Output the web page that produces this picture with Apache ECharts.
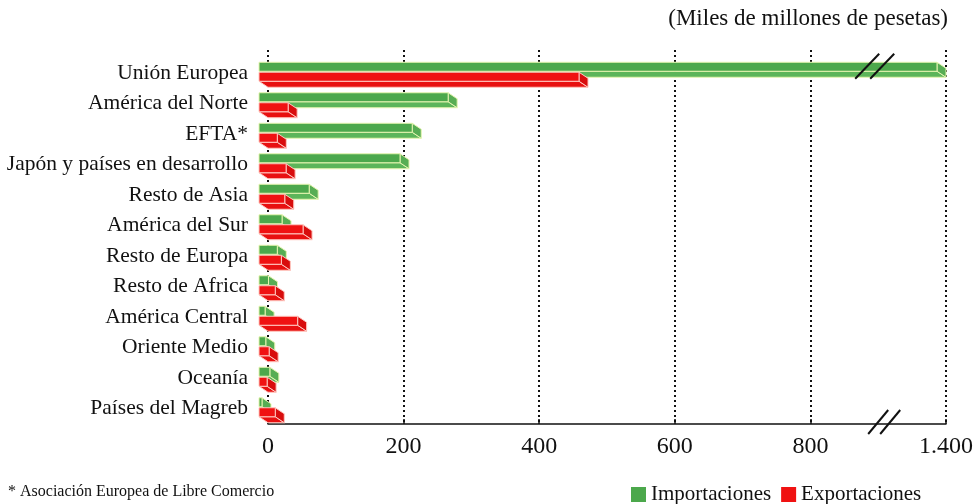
<!DOCTYPE html>
<html><head><meta charset="utf-8">
<script src="https://cdn.jsdelivr.net/npm/echarts@6/dist/echarts.min.js"></script>
<style>html,body{margin:0;background:#fff}#c{width:977px;height:504px}</style>
</head><body><div id="c"></div>
<script>
const categories = ['Unión Europea','América del Norte','EFTA*','Japón y países en desarrollo','Resto de Asia','América del Sur','Resto de Europa','Resto de Africa','América Central','Oriente Medio','Oceanía','Países del Magreb'];
const importaciones = [1400,279,226,208,74,34,27,14,9,10,16,4];
const exportaciones = [472,43,27,40,38,65,33,24,57,15,12,24];
const xTicks = [0,200,400,600,800,1400];
const axisBreak = {start: 900, end: 1300};

const FONT = '"Liberation Serif","DejaVu Serif",serif';
const GREEN = {front:'#4ca84c', bottom:'#5cb55a', side:'#57ad54', edge:'#e6f5b0'};
const RED = {front:'#f01212', bottom:'#e81010', side:'#d80d0d', edge:'#ffc8c0'};

const cut = axisBreak.end - axisBreak.start;
const toAxis = (v)=> v <= axisBreak.start ? v : v - cut;
const fromAxis = (a)=> a <= axisBreak.start ? a : a + cut;
function fmt(v){ return String(v).replace(/\B(?=(\d{3})+(?!\d))/g,'.'); }

function makeRender(col, off){
  return function(params, api){
    const v = api.value(0), idx = api.value(1);
    const p0 = api.coord([0, idx]);
    const p1 = api.coord([v, idx]);
    const DX = 9, DY = 6, H = 9;
    const yT = p0[1] + off, yB = yT + H;
    const x0 = p0[0] - DX;
    let x1 = p1[0] - DX;
    if (x1 < x0 + 3) x1 = x0 + 3;
    const st = (f)=>({fill:f, stroke:col.edge, lineWidth:1});
    return {type:'group', children:[
      {type:'polygon', shape:{points:[[x0,yB],[x1,yB],[x1+DX,yB+DY],[x0+DX,yB+DY]]}, style:st(col.bottom)},
      {type:'polygon', shape:{points:[[x1,yT],[x1+DX,yT+DY],[x1+DX,yB+DY],[x1,yB]]}, style:st(col.side)},
      {type:'rect', shape:{x:x0,y:yT,width:x1-x0,height:H}, style:st(col.front)}
    ]};
  };
}

const axisMax = toAxis(xTicks[xTicks.length-1]);
const xBase = {type:'value', min:0, max:axisMax, interval:200};

const chart = echarts.init(document.getElementById('c'), null, {renderer:'canvas'});
chart.setOption({
  backgroundColor:'#fff',
  animation:false,
  title:{text:'(Miles de millones de pesetas)', right:24, top:2,
    textStyle:{fontFamily:FONT, fontSize:23, fontWeight:'normal', color:'#111'}},
  legend:{left:626, top:479, itemWidth:15, itemHeight:15, itemGap:10,
    textStyle:{fontFamily:FONT, fontSize:21, color:'#111'},
    data:[{name:'Importaciones', icon:'rect'},{name:'Exportaciones', icon:'rect'}]},
  grid:[
    {left:268, right:31, top:58, bottom:80},
    {left:268, right:31, top:50, bottom:80}
  ],
  xAxis:[
    Object.assign({}, xBase, {gridIndex:0,
      axisLine:{show:true, lineStyle:{color:'#111', width:1.5}},
      axisTick:{show:true, inside:true, length:5, lineStyle:{color:'#111', width:1.5}},
      axisLabel:{margin:11, fontFamily:FONT, fontSize:24, color:'#111',
        formatter:(a)=>{ const v = fromAxis(a); return xTicks.includes(v) ? fmt(v) : ''; }},
      splitLine:{show:false}}),
    Object.assign({}, xBase, {gridIndex:1,
      axisLine:{show:false}, axisTick:{show:false}, axisLabel:{show:false},
      splitLine:{show:true, lineStyle:{color:'#111', width:2, type:[2,3]}}})
  ],
  yAxis:[
    {type:'category', gridIndex:0, data:categories, inverse:true,
      axisLine:{show:false}, axisTick:{show:false},
      axisLabel:{margin:20, fontFamily:FONT, fontSize:21.5, color:'#111'}},
    {type:'value', gridIndex:1, show:false}
  ],
  series:[
    {name:'Importaciones', type:'custom', xAxisIndex:0, yAxisIndex:0,
      itemStyle:{color:GREEN.front}, encode:{x:0, y:1},
      renderItem:makeRender(GREEN, -11),
      data:importaciones.map((v,i)=>[toAxis(v),i])},
    {name:'Exportaciones', type:'custom', xAxisIndex:0, yAxisIndex:0,
      itemStyle:{color:RED.front}, encode:{x:0, y:1},
      renderItem:makeRender(RED, -1),
      data:exportaciones.map((v,i)=>[toAxis(v),i])}
  ]
});

// break marks "//" at the axis break, located through the axis scale
const bx = chart.convertToPixel({xAxisIndex:0}, axisBreak.start);
const yTop = chart.convertToPixel({yAxisIndex:0}, 0);
const yAxisLine = 504 - 80;
const slash = (cx, cy, w, h)=>({type:'line', z:100,
  shape:{x1:cx-w/2, y1:cy+h/2, x2:cx+w/2, y2:cy-h/2},
  style:{stroke:'#111', lineWidth:2}});
chart.setOption({graphic:[
  {type:'text', left:8, top:484, style:{text:'* Asociación Europea de Libre Comercio', fontFamily:FONT, fontSize:16, fill:'#111'}},
  slash(bx-11, yTop-7, 24, 25), slash(bx+4, yTop-7, 24, 25),
  slash(bx, yAxisLine-2, 20, 24), slash(bx+12, yAxisLine-2, 20, 24)
]});
</script></body></html>
